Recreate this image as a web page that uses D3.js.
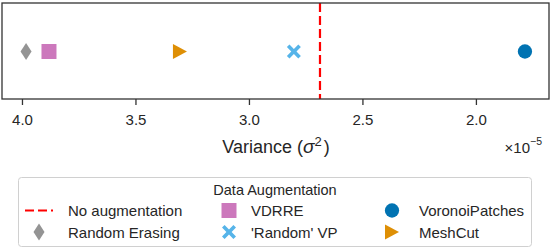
<!DOCTYPE html>
<html>
<head>
<meta charset="utf-8">
<script src="https://cdn.jsdelivr.net/npm/d3@7"></script>
<style>
  body { margin: 0; background: #fff; }
  text { font-family: "Liberation Sans", Arial, sans-serif; fill: #262626; }
</style>
</head>
<body>
<div id="viz"></div>
<script>
// data, variance in units of 1e-5
var methods = ["Random Erasing", "VDRRE", "MeshCut", "'Random' VP", "VoronoiPatches"];
var variances = [3.982, 3.881, 3.304, 2.802, 1.784];
var baseline = 2.687;
var tickValues = [4.0, 3.5, 3.0, 2.5, 2.0];

var colors = {
  "Random Erasing": "#949494",
  "VDRRE": "#cc78bc",
  "MeshCut": "#de8f05",
  "'Random' VP": "#56b4e9",
  "VoronoiPatches": "#0173b2"
};

var width = 550, height = 250;
var margin = {top: 3, right: 1, left: 2};
var plotBottom = 99;

var svg = d3.select('#viz')
  .append('svg')
  .attr('width', width)
  .attr('height', height);

var x = d3.scaleLinear()
  .domain([4.088, 1.678])
  .range([margin.left, width - margin.right]);
var yMid = (margin.top + plotBottom) / 2 + 0.5;

// filled X shape
function xPath(s, w) {
  var pts = [[0, -w], [s - w, -s], [s, -s + w], [w, 0], [s, s - w], [s - w, s],
             [0, w], [-s + w, s], [-s, s - w], [-w, 0], [-s, -s + w], [-s + w, -s]];
  return "M" + pts.map(p => p.join(",")).join("L") + "Z";
}

// marker paths
function markerPath(name) {
  if (name === "Random Erasing") return "M0,-8.5L5.5,0L0,8.5L-5.5,0Z";
  if (name === "VDRRE") return "M-7.5,-7.5H7.5V7.5H-7.5Z";
  if (name === "MeshCut") return "M-7,-7.5L7,0L-7,7.5Z";
  if (name === "'Random' VP") return xPath(7, 2.6);
  return d3.symbol().type(d3.symbolCircle).size(160)();
}

// baseline
svg.append("line")
  .attr("x1", x(baseline)).attr("x2", x(baseline))
  .attr("y1", margin.top).attr("y2", plotBottom)
  .attr("stroke", "#ff0000")
  .attr("stroke-width", 2.2)
  .attr("stroke-dasharray", "9,4");

// points
svg.append("g")
  .selectAll("path")
  .data(methods)
  .join("path")
  .attr("transform", (d, i) => `translate(${x(variances[i])},${yMid})`)
  .attr("d", d => markerPath(d))
  .attr("fill", d => colors[d]);

// frame
svg.append("rect")
  .attr("x", margin.left).attr("y", margin.top)
  .attr("width", width - margin.right - margin.left)
  .attr("height", plotBottom - margin.top)
  .attr("fill", "none")
  .attr("stroke", "#333")
  .attr("stroke-width", 1.3);

// axis
var axis = svg.append("g")
  .attr("transform", `translate(0,${plotBottom})`)
  .call(d3.axisBottom(x).tickValues(tickValues).tickFormat(d3.format(".1f")).tickSize(6).tickPadding(9));
axis.select(".domain").remove();
axis.selectAll("line").attr("stroke", "#333").attr("stroke-width", 1.3);
axis.selectAll("text").attr("font-size", 15).style("fill", "#262626");

svg.append("text")
  .attr("x", 276).attr("y", 153)
  .attr("text-anchor", "middle")
  .attr("font-size", 18)
  .html('Variance (<tspan font-style="italic" font-size="19">σ</tspan><tspan dy="-7" font-size="13">2</tspan><tspan dy="7" dx="2">)</tspan>');

svg.append("text")
  .attr("x", 542).attr("y", 153)
  .attr("text-anchor", "end")
  .attr("font-size", 15)
  .html('×10<tspan dy="-8" font-size="10.5">−5</tspan>');

// legend
var lg = svg.append("g");
lg.append("rect")
  .attr("x", 18.5).attr("y", 177.5)
  .attr("width", 513).attr("height", 69)
  .attr("rx", 3)
  .attr("fill", "#fff")
  .attr("stroke", "#d0d0d0");
lg.append("text")
  .attr("x", 275).attr("y", 194.5)
  .attr("text-anchor", "middle")
  .attr("font-size", 14.5)
  .text("Data Augmentation");

var legendItems = ["No augmentation", "Random Erasing", "VDRRE", "'Random' VP", "VoronoiPatches", "MeshCut"];
var colX = [39, 229, 392];
var textX = [68, 251, 419];
var rowY = [210.5, 232];

legendItems.forEach(function(name, i) {
  var c = Math.floor(i / 2), r = i % 2;
  if (name === "No augmentation") {
    lg.append("line")
      .attr("x1", colX[c] - 14).attr("x2", colX[c] + 14)
      .attr("y1", rowY[r]).attr("y2", rowY[r])
      .attr("stroke", "#ff0000").attr("stroke-width", 2.2)
      .attr("stroke-dasharray", "9,4");
  } else {
    lg.append("path")
      .attr("transform", `translate(${colX[c]},${rowY[r]})`)
      .attr("d", markerPath(name))
      .attr("fill", colors[name]);
  }
  lg.append("text")
    .attr("x", textX[c]).attr("y", rowY[r] + 5.5)
    .attr("font-size", 15)
    .text(name);
});
</script>
</body>
</html>
